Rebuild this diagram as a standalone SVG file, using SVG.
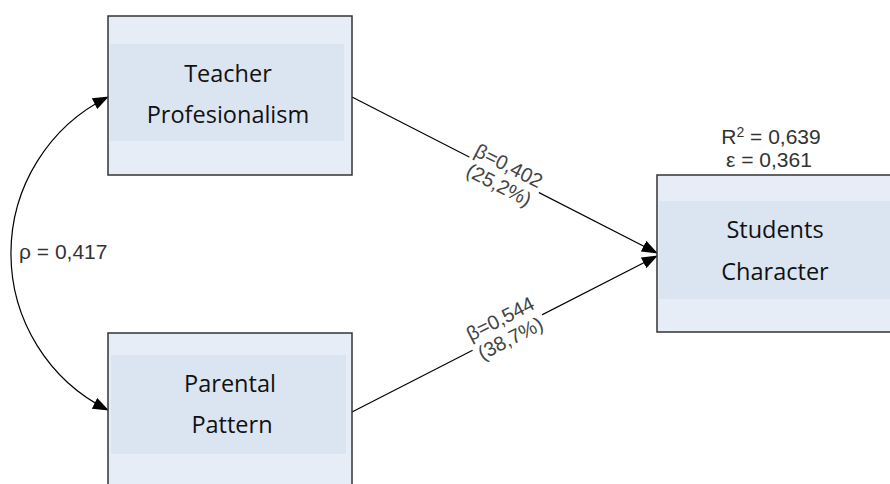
<svg xmlns="http://www.w3.org/2000/svg" width="890" height="484" viewBox="0 0 890 484">
  <defs>
    <marker id="arrow" markerUnits="userSpaceOnUse" markerWidth="16" markerHeight="12" viewBox="0 0 16 12" refX="15" refY="6" orient="auto-start-reverse">
      <path d="M0,0 L16,6 L0,12 z" fill="#000"/>
    </marker>
  </defs>
  <style>
    .box { fill: #E6EDF7; stroke: #333; stroke-width: 1.5; }
    .band { fill: #DBE5F1; }
    .name { font-family: "Open Sans", "Liberation Sans", sans-serif; font-size: 23.5px; fill: #111; text-anchor: middle; }
    .stat { font-family: "Liberation Sans", Arial, sans-serif; font-size: 21px; fill: #333; }
    .coef { font-family: "Liberation Sans", Arial, sans-serif; font-size: 20px; fill: #444; text-anchor: middle; }
    .conn { fill: none; stroke: #000; stroke-width: 1.2; }
  </style>
  <rect width="890" height="484" fill="#fff"/>

  <g id="connectors">
    <path class="conn" d="M108,97 A174.7,174.7 0 0 0 108,410" marker-start="url(#arrow)" marker-end="url(#arrow)"/>
    <line class="conn" x1="352" y1="97" x2="657" y2="253" marker-end="url(#arrow)"/>
    <line class="conn" x1="352" y1="412" x2="657" y2="256" marker-end="url(#arrow)"/>
    <g transform="translate(504,175) rotate(27.1)">
      <rect x="-39" y="-23" width="78" height="47" fill="#fff"/>
      <text class="coef" x="0" y="-3.5">β=0,402</text>
      <text class="coef" x="0" y="18">(25,2%)</text>
    </g>
    <g transform="translate(505,328) rotate(-27.1)">
      <rect x="-39" y="-23" width="78" height="47" fill="#fff"/>
      <text class="coef" x="0" y="-3.5">β=0,544</text>
      <text class="coef" x="0" y="18.5">(38,7%)</text>
    </g>
    <text class="stat" x="19" y="259">ρ = 0,417</text>
  </g>

  <g id="teacher">
    <rect class="box" x="108" y="16" width="244" height="159"/>
    <rect class="band" x="110" y="44" width="234" height="97"/>
    <text class="name" x="228" y="82">Teacher</text>
    <text class="name" x="228" y="123">Profesionalism</text>
  </g>

  <g id="parental">
    <rect class="box" x="108" y="333" width="244" height="160"/>
    <rect class="band" x="111" y="355" width="235" height="99"/>
    <text class="name" x="230" y="392">Parental</text>
    <text class="name" x="232" y="433">Pattern</text>
  </g>

  <g id="students">
    <rect class="box" x="657" y="175" width="240" height="157"/>
    <rect class="band" x="659" y="201" width="231" height="98"/>
    <text class="name" x="775" y="238">Students</text>
    <text class="name" x="775" y="280">Character</text>
    <text class="stat" x="771" y="144" text-anchor="middle">R<tspan dy="-7" font-size="14">2</tspan><tspan dy="7"> = 0,639</tspan></text>
    <text class="stat" x="769" y="167" text-anchor="middle">ε = 0,361</text>
  </g>
</svg>
